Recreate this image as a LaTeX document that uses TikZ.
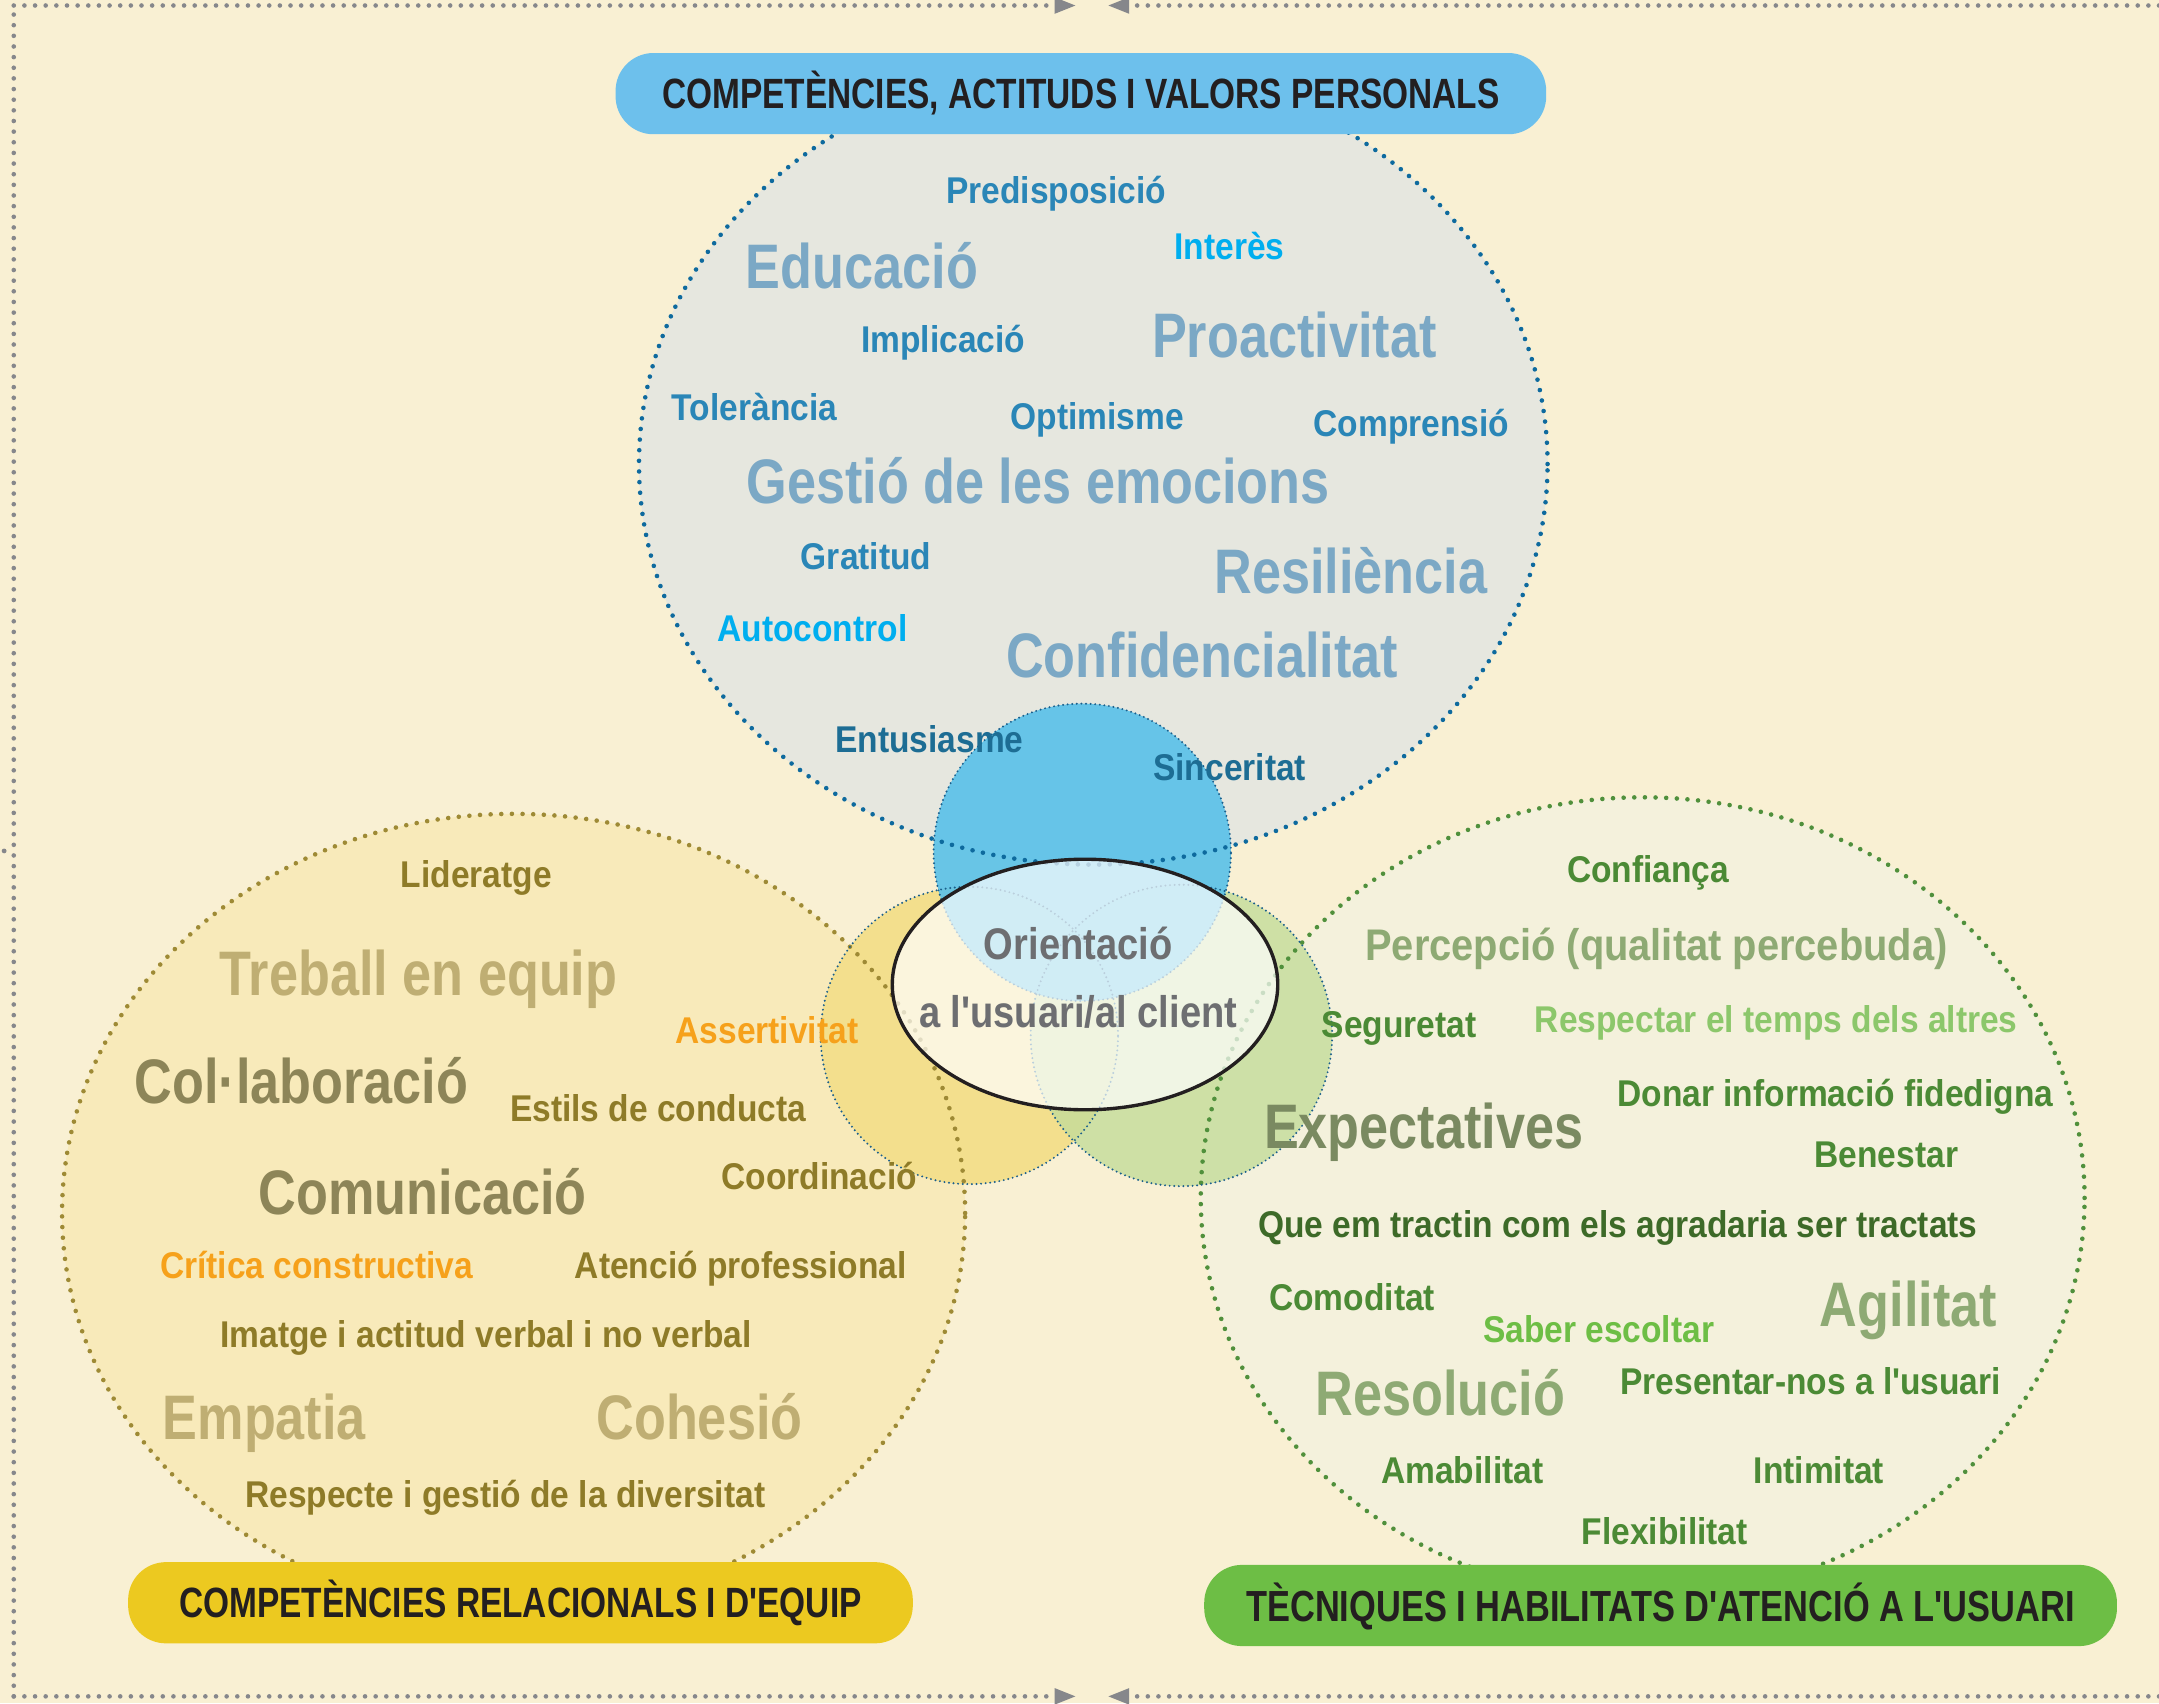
\documentclass[tikz,border=0pt]{standalone}
\usepackage{fontspec}
\newfontfamily\wordfont{Liberation Sans}[FakeStretch=0.90]
\newfontfamily\bigwordfont{Liberation Sans}[FakeStretch=0.83]
\newfontfamily\tagfont{Liberation Sans}[FakeStretch=0.79]
\newfontfamily\corefont{Liberation Sans}[FakeStretch=0.86]
\newcommand\apos{{\char"0027}}
\usetikzlibrary{shapes.geometric,arrows.meta}

\definecolor{bgcream}{HTML}{F9F0D3}
\definecolor{persfill}{HTML}{E6E7DF}
\definecolor{relfill}{HTML}{F8EABA}
\definecolor{tecfill}{HTML}{F4F1DC}
\definecolor{persline}{HTML}{0E6A9E}
\definecolor{relline}{HTML}{9E8A35}
\definecolor{tecline}{HTML}{50903C}
\definecolor{smallline}{HTML}{1A5F8C}
\definecolor{blueset}{HTML}{59C1E9}
\definecolor{yellowset}{HTML}{F3DF8D}
\definecolor{greenset}{HTML}{C4DC9A}
\definecolor{tagblue}{HTML}{6DC0EC}
\definecolor{tagyellow}{HTML}{ECC920}
\definecolor{taggreen}{HTML}{6DBE45}
\definecolor{tagtext}{HTML}{231F20}
\definecolor{coretext}{HTML}{6D6E71}
\definecolor{framegray}{HTML}{86878B}
% word colours
\definecolor{tsteel}{HTML}{7BA8C5}
\definecolor{tblue}{HTML}{2A86B7}
\definecolor{tcyan}{HTML}{00AEEF}
\definecolor{tdark}{HTML}{1D6D94}
\definecolor{rolive}{HTML}{8E7B28}
\definecolor{rkhaki}{HTML}{BFAE73}
\definecolor{rdark}{HTML}{8D8558}
\definecolor{rorange}{HTML}{F6A11B}
\definecolor{tgreen}{HTML}{4B8A35}
\definecolor{tsage}{HTML}{8EAA74}
\definecolor{tlight}{HTML}{8CC76B}
\definecolor{tgray}{HTML}{7A8A61}
\definecolor{tdeep}{HTML}{3D6A28}
\definecolor{tbright}{HTML}{6DBE45}

\tikzset{
  word/.style={inner sep=0pt, text height=0.388cm, text depth=0pt,
    font=\wordfont\bfseries\fontsize{15.4}{18}\selectfont},
  midword/.style={word, text height=0.46cm,
    font=\wordfont\bfseries\fontsize{18.3}{21}\selectfont},
  bigword/.style={word, text height=0.654cm,
    font=\bigwordfont\bfseries\fontsize{26}{30}\selectfont},
  coreword/.style={word, text height=0.46cm, text=coretext,
    font=\corefont\bfseries\fontsize{18.3}{21}\selectfont},
  tag/.style={rounded corners=0.55cm, inner sep=0pt, minimum height=1.18cm,
    text height=0.44cm, text depth=0pt, text=tagtext,
    font=\tagfont\bfseries\fontsize{17.5}{20}\selectfont},
  bigset/.style={ellipse, inner sep=0pt, outer sep=0pt},
  smallset/.style={circle, inner sep=0pt, outer sep=0pt},
  bigdots/.style={line width=1.9pt, dash pattern=on 0pt off 4.4pt, line cap=round},
  finedots/.style={draw=smallline, line width=0.9pt, dash pattern=on 0pt off 1.9pt, line cap=round},
  framedots/.style={draw=framegray, line width=1.9pt, dash pattern=on 0pt off 4.4pt, line cap=round},
  tip/.style={-{Triangle[length=0.3cm, width=0.24cm, line width=0pt]}}
}

\begin{document}
\begin{tikzpicture}[x=0.02cm, y=-0.02cm]
  \useasboundingbox (0,0) rectangle (1568,1237);
  \fill[bgcream] (0,0) rectangle (1568,1237);

  % frame with the two pairs of arrows
  \coordinate (frtl) at (10,4);
  \coordinate (frbl) at (10,1232);
  \coordinate (frtr) at (1568,4);
  \coordinate (frbr) at (1568,1232);
  \coordinate (toptipl) at (781,4);
  \coordinate (toptipr) at (805,4);
  \coordinate (bottipl) at (781,1232);
  \coordinate (bottipr) at (805,1232);
  \draw[framedots] (frbl) -- (frtl);
  \draw[framedots, tip] (frtl) -- (toptipl);
  \draw[framedots, tip] (frtr) -- (toptipr);
  \draw[framedots, tip] (frbl) -- (bottipl);
  \draw[framedots, tip] (frbr) -- (bottipr);
  \fill[framegray] (3,618) circle (1pt);

  % the three big sets
  \node[bigset, fill=persfill, minimum width=13.2cm, minimum height=11.64cm] (pers) at (794,337) {};
  \node[bigset, fill=relfill, minimum width=13.12cm, minimum height=11.6cm] (rel) at (373,881) {};
  \node[bigset, fill=tecfill, minimum width=12.84cm, minimum height=11.64cm] (tec) at (1193,870) {};

  % the three small sets in the middle
  \node[smallset, fill=yellowset, minimum size=4.32cm] (relcore) at (704,752) {};
  \node[smallset, fill=greenset, fill opacity=0.8, minimum size=4.38cm] (teccore) at (858,752) {};
  \node[smallset, fill=blueset, fill opacity=0.9, minimum size=4.32cm] (perscore) at (786,619) {};

  % dotted outlines
  \node[bigset, draw=persline, bigdots, minimum width=13.2cm, minimum height=11.64cm] at (pers) {};
  \node[bigset, draw=relline, bigdots, minimum width=13.12cm, minimum height=11.6cm] at (rel) {};
  \node[bigset, draw=tecline, bigdots, minimum width=12.84cm, minimum height=11.64cm] at (tec) {};
  \node[smallset, finedots, minimum size=4.32cm] at (relcore) {};
  \node[smallset, finedots, minimum size=4.38cm] at (teccore) {};
  \node[smallset, finedots, minimum size=4.32cm] at (perscore) {};

  % centre
  \node[ellipse, draw=tagtext, line width=1.4pt, fill=white, fill opacity=0.7,
        minimum width=5.6cm, minimum height=3.64cm, inner sep=0pt] (core) at (788,715) {};
  \node[coreword] (core1) at (783,685) {Orientació};
  \node[coreword] (core2) at (783,735) {a l\apos usuari/al client};

  % headings
  \node[tag, fill=tagblue, minimum width=13.52cm] (perstag) at (785,68)
       {COMPETÈNCIES, ACTITUDS I VALORS PERSONALS};
  \node[tag, fill=tagyellow, minimum width=11.4cm] (reltag) at (378,1164)
       {COMPETÈNCIES RELACIONALS I D\apos EQUIP};
  \node[tag, fill=taggreen, minimum width=13.26cm, text height=0.46cm,
        font=\tagfont\bfseries\fontsize{18}{20}\selectfont] (tectag) at (1206,1166)
       {TÈCNIQUES I HABILITATS D\apos ATENCIÓ A L\apos USUARI};

  % personal values
  \node[word, text=tblue] (predisp) at (767,138) {Predisposició};
  \node[bigword, text=tsteel] (educ) at (626,193) {Educació};
  \node[word, text=tcyan] (interes) at (893,179) {Interès};
  \node[word, text=tblue] (implic) at (685,246) {Implicació};
  \node[bigword, text=tsteel] (proact) at (940,243) {Proactivitat};
  \node[word, text=tblue] (toler) at (548,296) {Tolerància};
  \node[word, text=tblue] (optim) at (797,302) {Optimisme};
  \node[word, text=tblue] (compr) at (1025,307) {Comprensió};
  \node[bigword, text=tsteel] (gestio) at (754,349) {Gestió de les emocions};
  \node[word, text=tblue] (gratit) at (629,404) {Gratitud};
  \node[bigword, text=tsteel] (resil) at (981,415) {Resiliència};
  \node[word, text=tcyan] (autoc) at (590,456) {Autocontrol};
  \node[bigword, text=tsteel] (confid) at (873,476) {Confidencialitat};
  \node[word, text=tdark] (entus) at (675,537) {Entusiasme};
  \node[word, text=tdark] (sincer) at (893,557) {Sinceritat};

  % relational and team skills
  \node[word, text=rolive] (lider) at (346,635) {Lideratge};
  \node[bigword, text=rkhaki] (treball) at (304,707) {Treball en equip};
  \node[bigword, text=rdark] (collab) at (219,785) {Col·laboració};
  \node[word, text=rorange] (assert) at (557,748) {Assertivitat};
  \node[word, text=rolive] (estils) at (478,805) {Estils de conducta};
  \node[bigword, text=rdark] (comun) at (307,866) {Comunicació};
  \node[word, text=rolive] (coord) at (595,854) {Coordinació};
  \node[word, text=rorange] (critica) at (230,919) {Crítica constructiva};
  \node[word, text=rolive] (atencio) at (538,919) {Atenció professional};
  \node[word, text=rolive] (imatge) at (353,969) {Imatge i actitud verbal i no verbal};
  \node[bigword, text=rkhaki] (empatia) at (192,1029) {Empatia};
  \node[bigword, text=rkhaki] (cohesio) at (508,1029) {Cohesió};
  \node[word, text=rolive] (respecte) at (367,1085) {Respecte i gestió de la diversitat};

  % customer care techniques
  \node[word, text=tgreen] (confianca) at (1197,631) {Confiança};
  \node[midword, text=tsage] (percep) at (1203,686) {Percepció (qualitat percebuda)};
  \node[word, text=tgreen] (segur) at (1016,744) {Seguretat};
  \node[word, text=tlight] (temps) at (1290,740) {Respectar el temps dels altres};
  \node[word, text=tgreen] (donar) at (1333,794) {Donar informació fidedigna};
  \node[bigword, text=tgray] (expect) at (1034,818) {Expectatives};
  \node[word, text=tgreen] (benestar) at (1370,838) {Benestar};
  \node[word, text=tdeep] (tractin) at (1175,889) {Que em tractin com els agradaria ser tractats};
  \node[word, text=tgreen] (comod) at (982,942) {Comoditat};
  \node[word, text=tbright] (saber) at (1161,965) {Saber escoltar};
  \node[bigword, text=tsage] (agil) at (1386,947) {Agilitat};
  \node[bigword, text=tsage] (resol) at (1046,1012) {Resolució};
  \node[word, text=tgreen] (present) at (1315,1003) {Presentar-nos a l\apos usuari};
  \node[word, text=tgreen] (amab) at (1062,1068) {Amabilitat};
  \node[word, text=tgreen] (intim) at (1321,1068) {Intimitat};
  \node[word, text=tgreen] (flex) at (1209,1112) {Flexibilitat};
\end{tikzpicture}
\end{document}
